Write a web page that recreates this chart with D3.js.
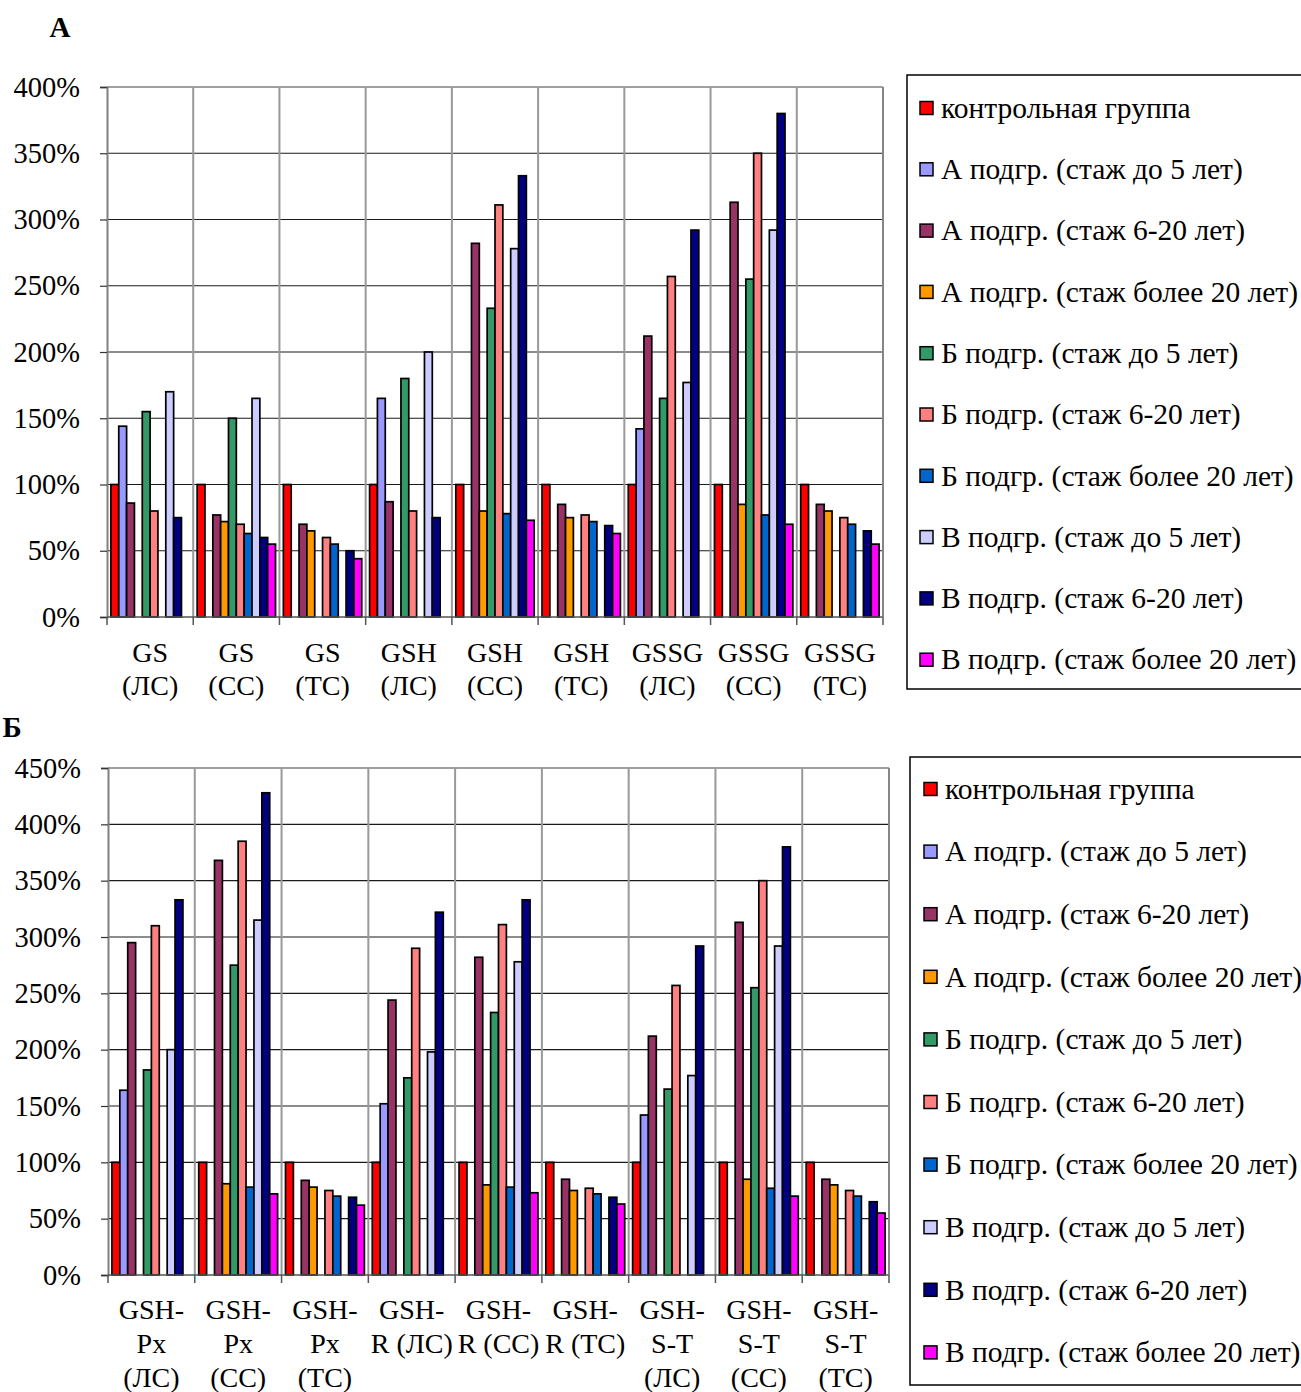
<!DOCTYPE html>
<html>
<head>
<meta charset="utf-8">
<script src="https://cdn.jsdelivr.net/npm/d3@7"></script>
<style>
  html, body { margin: 0; padding: 0; background: #fff; }
  svg { display: block; }
  text { font-family: "Liberation Serif", "Times New Roman", serif; fill: #000; }
</style>
</head>
<body>
<svg id="chart" width="1301" height="1392"></svg>
<script>
// Series (legend order) and their fill colours
const seriesNames = [
  "контрольная группа",
  "А подгр. (стаж до 5 лет)",
  "А подгр. (стаж 6-20 лет)",
  "А подгр. (стаж более 20 лет)",
  "Б подгр. (стаж до 5 лет)",
  "Б подгр. (стаж 6-20 лет)",
  "Б подгр. (стаж более 20 лет)",
  "В подгр. (стаж до 5 лет)",
  "В подгр. (стаж 6-20 лет)",
  "В подгр. (стаж более 20 лет)"
];
const seriesColors = ["#FF0000", "#9999FF", "#993366", "#FF9900", "#339966",
                      "#FF8080", "#0066CC", "#CCCCFF", "#000080", "#FF00FF"];

// Panel А: categories (axis label lines) and values, % of control
const categoriesA = [
  ["GS", "(ЛС)"], ["GS", "(СС)"], ["GS", "(ТС)"],
  ["GSH", "(ЛС)"], ["GSH", "(СС)"], ["GSH", "(ТС)"],
  ["GSSG", "(ЛС)"], ["GSSG", "(СС)"], ["GSSG", "(ТС)"]
];
const A_control  = [100, 100, 100, 100, 100, 100, 100, 100, 100];
const A_aUpTo5   = [144, null, null, 165, null, null, 142, null, null];
const A_a6to20   = [86, 77, 70, 87, 282, 85, 212, 313, 85];
const A_aOver20  = [null, 72, 65, null, 80, 75, null, 85, 80];
const A_bUpTo5   = [155, 150, null, 180, 233, null, 165, 255, null];
const A_b6to20   = [80, 70, 60, 80, 311, 77, 257, 350, 75];
const A_bOver20  = [null, 63, 55, null, 78, 72, null, 77, 70];
const A_vUpTo5   = [170, 165, null, 200, 278, null, 177, 292, null];
const A_v6to20   = [75, 60, 50, 75, 333, 69, 292, 380, 65];
const A_vOver20  = [null, 55, 44, null, 73, 63, null, 70, 55];
const ticksA = [0, 50, 100, 150, 200, 250, 300, 350, 400];

// Panel Б
const categoriesB = [
  ["GSH-", "Px", "(ЛС)"], ["GSH-", "Px", "(СС)"], ["GSH-", "Px", "(ТС)"],
  ["GSH-", "R (ЛС)"], ["GSH-", "R (СС)"], ["GSH-", "R (ТС)"],
  ["GSH-", "S-T", "(ЛС)"], ["GSH-", "S-T", "(СС)"], ["GSH-", "S-T", "(ТС)"]
];
const B_control  = [100, 100, 100, 100, 100, 100, 100, 100, 100];
const B_aUpTo5   = [164, null, null, 152, null, null, 142, null, null];
const B_a6to20   = [295, 368, 84, 244, 282, 85, 212, 313, 85];
const B_aOver20  = [null, 81, 78, null, 80, 75, null, 85, 80];
const B_bUpTo5   = [182, 275, null, 175, 233, null, 165, 255, null];
const B_b6to20   = [310, 385, 75, 290, 311, 77, 257, 350, 75];
const B_bOver20  = [null, 78, 70, null, 78, 72, null, 77, 70];
const B_vUpTo5   = [200, 315, null, 198, 278, null, 177, 292, null];
const B_v6to20   = [333, 428, 69, 322, 333, 69, 292, 380, 65];
const B_vOver20  = [null, 72, 62, null, 73, 63, null, 70, 55];
const ticksB = [0, 50, 100, 150, 200, 250, 300, 350, 400, 450];

const seriesA = [A_control, A_aUpTo5, A_a6to20, A_aOver20, A_bUpTo5,
                 A_b6to20, A_bOver20, A_vUpTo5, A_v6to20, A_vOver20];
const seriesB = [B_control, B_aUpTo5, B_a6to20, B_aOver20, B_bUpTo5,
                 B_b6to20, B_bOver20, B_vUpTo5, B_v6to20, B_vOver20];

const svg = d3.select("#chart");
const TICK_FONT = 28.5;
const CAT_FONT = 28;
const LEGEND_FONT = 29.5;

function drawPanel(opt) {
  const g = svg.append("g");
  const n = opt.categories.length;
  const x = d3.scaleBand().domain(d3.range(n)).range([opt.left, opt.right]);
  const step = x.step();
  const inner = d3.scaleBand().domain(d3.range(seriesNames.length))
    .range([step / 22, step - step / 22]);
  const y = d3.scaleLinear().domain([0, opt.max]).range([opt.bottom, opt.top]);

  // horizontal gridlines
  g.append("g").selectAll("line").data(opt.ticks.filter(t => t > 0)).join("line")
    .attr("x1", opt.left).attr("x2", opt.right)
    .attr("y1", d => y(d)).attr("y2", d => y(d))
    .attr("stroke", d => d === opt.max ? "#808080" : "#1a1a1a")
    .attr("stroke-width", d => d === opt.max ? 1.5 : 1.2);

  // vertical separators between categories
  const bounds = d3.range(n + 1).map(i => i < n ? x(i) : opt.right);
  g.append("g").selectAll("line").data(bounds.slice(1)).join("line")
    .attr("x1", d => d).attr("x2", d => d)
    .attr("y1", opt.top).attr("y2", opt.bottom)
    .attr("stroke", "#999").attr("stroke-width", 2);

  // bars
  opt.series.forEach((vals, si) => {
    g.append("g").selectAll("rect")
      .data(vals.map((v, ci) => ({ v, ci })).filter(d => d.v != null))
      .join("rect")
      .attr("x", d => x(d.ci) + inner(si))
      .attr("width", inner.bandwidth())
      .attr("y", d => y(d.v))
      .attr("height", d => y(0) - y(d.v))
      .attr("fill", seriesColors[si])
      .attr("stroke", "#000").attr("stroke-width", 1.7);
  });

  // y axis
  const yAxis = d3.axisLeft(y).tickValues(opt.ticks).tickFormat(d => d + "%")
    .tickSize(7).tickPadding(20);
  const ya = g.append("g").attr("transform", `translate(${opt.left},0)`).call(yAxis);
  ya.select(".domain").attr("stroke", "#808080").attr("stroke-width", 2);
  ya.selectAll(".tick line").attr("stroke", "#333").attr("stroke-width", 1.2);
  ya.selectAll("text").style("font-size", TICK_FONT + "px")
    .style("font-family", '"Liberation Serif", serif').attr("fill", "#000");

  // x axis baseline and boundary ticks
  g.append("line").attr("x1", opt.left).attr("x2", opt.right)
    .attr("y1", opt.bottom).attr("y2", opt.bottom)
    .attr("stroke", "#555").attr("stroke-width", 1.5);
  g.append("g").selectAll("line").data(bounds).join("line")
    .attr("x1", d => d).attr("x2", d => d)
    .attr("y1", opt.bottom).attr("y2", opt.bottom + 8)
    .attr("stroke", "#555").attr("stroke-width", 1.5);

  // category labels
  const xAxis = d3.axisBottom(x).tickSize(0).tickFormat("");
  const xa = g.append("g").attr("transform", `translate(0,${opt.bottom})`).call(xAxis);
  xa.select(".domain").remove();
  xa.selectAll(".tick").each(function(i) {
    const t = d3.select(this).append("text")
      .attr("text-anchor", "middle")
      .style("font-size", CAT_FONT + "px");
    opt.categories[i].forEach((line, li) => {
      t.append("tspan").attr("x", 0).attr("y", opt.labelY0 + li * opt.labelDy).text(line);
    });
  });

  // right border of plot
  g.append("line").attr("x1", opt.right).attr("x2", opt.right)
    .attr("y1", opt.top).attr("y2", opt.bottom)
    .attr("stroke", "#808080").attr("stroke-width", 1.5);

  // legend
  const lg = g.append("g");
  lg.append("rect").attr("x", opt.legend.x).attr("y", opt.legend.y)
    .attr("width", 420).attr("height", opt.legend.h)
    .attr("fill", "#fff").attr("stroke", "#000").attr("stroke-width", 1.5);
  const rows = lg.selectAll("g.item").data(seriesNames).join("g")
    .attr("class", "item")
    .attr("transform", (d, i) => `translate(0,${opt.legend.y0 + i * opt.legend.dy})`);
  rows.append("rect").attr("x", opt.legend.sx).attr("y", -6.5)
    .attr("width", 13).attr("height", 13)
    .attr("fill", (d, i) => seriesColors[i]).attr("stroke", "#000").attr("stroke-width", 1.5);
  rows.append("text").attr("x", opt.legend.tx).attr("y", 0).attr("dy", "0.33em")
    .style("font-size", LEGEND_FONT + "px").text(d => d);

  // panel letter
  g.append("text").attr("x", opt.letter.x).attr("y", opt.letter.y).attr("dy", "0.35em")
    .attr("text-anchor", "middle").style("font-size", "29px").style("font-weight", "bold")
    .text(opt.letter.t);
}

drawPanel({
  categories: categoriesA, series: seriesA, ticks: ticksA, max: 400,
  left: 107, right: 883, top: 87, bottom: 617,
  labelY0: 45, labelDy: 33,
  legend: { x: 907, y: 75, h: 614, y0: 108, dy: 61.3, sx: 920, tx: 941 },
  letter: { x: 60, y: 27, t: "А" }
});

drawPanel({
  categories: categoriesB, series: seriesB, ticks: ticksB, max: 450,
  left: 108, right: 889, top: 768, bottom: 1275,
  labelY0: 44, labelDy: 34,
  legend: { x: 910, y: 757, h: 628, y0: 789, dy: 62.6, sx: 924, tx: 945 },
  letter: { x: 12, y: 727, t: "Б" }
});
</script>
</body>
</html>
